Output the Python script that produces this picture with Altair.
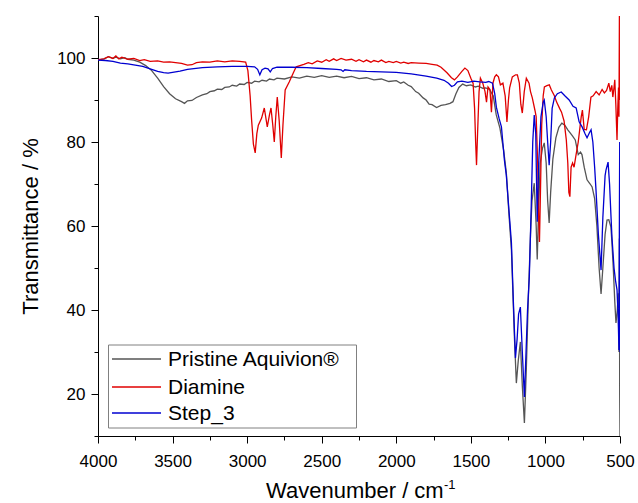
import altair as alt
import pandas as pd

SERIES = ["Pristine Aquivion®", "Diamine", "Step_3"]
COLORS = ["#555555", "#e00000", "#0000d0"]

gray_wn = [4000, 3960, 3930, 3900, 3880, 3850, 3820, 3800, 3760, 3720, 3680, 3640, 3600, 3560, 3520, 3480,
           3440, 3420, 3400, 3370, 3340, 3300, 3270, 3250, 3220, 3200, 3170, 3150, 3120, 3100, 3070, 3050,
           3020, 3000, 2970, 2950, 2920, 2900, 2870, 2850, 2820, 2800, 2750, 2700, 2650, 2600, 2550, 2500,
           2450, 2400, 2350, 2300, 2250, 2200, 2150, 2100, 2050, 2000, 1970, 1950, 1920, 1900, 1870, 1850,
           1820, 1800, 1780, 1760, 1730, 1700, 1670, 1640, 1620, 1600, 1580, 1555, 1530, 1500, 1470, 1450,
           1420, 1400, 1375, 1350, 1330, 1320, 1305, 1280, 1262, 1245, 1228, 1208, 1195, 1182, 1168, 1155,
           1141, 1128, 1115, 1100, 1090, 1075, 1062, 1055, 1045, 1035, 1020, 1008, 995, 985, 975, 965,
           950, 930, 910, 890, 870, 850, 820, 800, 780, 765, 755, 740, 721, 700, 687, 670,
           655, 640, 627, 615, 600, 587, 575, 561, 554, 545, 535, 527, 518, 512, 507, 504, 502, 500]
gray_t = [99.5, 99.8, 100.3, 99.9, 100.2, 99.8, 100.1, 99.7, 99.5, 99.0, 98.2, 97.0, 95.2, 93.2, 91.5, 90.3,
          89.6, 89.2, 89.8, 89.9, 90.6, 91.2, 91.5, 92.0, 92.2, 92.6, 92.5, 93.0, 93.1, 93.5, 93.3, 93.8,
          93.7, 94.2, 94.0, 94.5, 94.3, 94.7, 94.5, 95.0, 94.8, 95.2, 95.0, 95.5, 95.2, 95.7, 95.4, 95.8,
          95.4, 95.7, 95.3, 95.6, 95.1, 95.3, 94.8, 95.0, 94.4, 94.6, 94.0, 94.3, 93.5, 93.2, 92.0, 91.6,
          90.5, 90.0, 89.0, 88.9, 88.2, 88.7, 88.9, 89.2, 89.6, 91.5, 93.0, 93.8, 93.4, 93.6, 93.1, 93.3,
          92.8, 92.9, 92.5, 91.0, 86.5, 85.2, 83.3, 78.0, 72.6, 63.0, 54.3, 33.6, 22.6, 28.0, 32.4, 22.0,
          13.1, 26.0, 42.4, 58.0, 66.0, 70.2, 60.0, 52.0, 65.0, 75.0, 78.5, 79.8, 75.0, 66.0, 60.7, 68.0,
          76.0, 81.0, 83.5, 84.5, 84.0, 82.9, 81.5, 80.5, 77.0, 77.6, 77.0, 74.0, 71.0, 70.0, 69.3, 66.5,
          60.0, 50.0, 43.8, 50.0, 58.0, 61.4, 61.5, 59.8, 56.0, 50.0, 42.0, 36.9, 40.0, 44.0, 30.0, 57.0, 20.0, 10.0]

red_wn = [4000, 3960, 3930, 3900, 3880, 3860, 3840, 3800, 3760, 3720, 3690, 3650, 3600, 3560, 3520, 3480,
          3440, 3400, 3370, 3340, 3300, 3250, 3200, 3150, 3100, 3050, 3010, 2995, 2980, 2970, 2958, 2946,
          2935, 2925, 2903, 2885, 2865, 2850, 2840, 2828, 2818, 2808, 2798, 2785, 2771, 2760, 2745, 2718,
          2690, 2671, 2620, 2590, 2564, 2530, 2500, 2470, 2450, 2420, 2400, 2370, 2337, 2300, 2270, 2250,
          2220, 2200, 2170, 2150, 2120, 2100, 2070, 2050, 2020, 2000, 1970, 1950, 1920, 1900, 1850, 1800,
          1760, 1726, 1700, 1660, 1630, 1610, 1590, 1560, 1540, 1520, 1500, 1485, 1475, 1468, 1462, 1455,
          1445, 1436, 1420, 1405, 1395, 1385, 1372, 1362, 1352, 1340, 1329, 1315, 1302, 1285, 1270, 1258,
          1248, 1240, 1222, 1200, 1188, 1175, 1165, 1155, 1142, 1128, 1110, 1100, 1088, 1070, 1062, 1052,
          1045, 1040, 1035, 1025, 1015, 1007, 990, 974, 960, 940, 925, 905, 892, 875, 860, 850,
          843, 836, 828, 818, 808, 795, 780, 770, 760, 752, 740, 725, 710, 695, 680, 660,
          640, 620, 605, 590, 575, 565, 555, 548, 540, 535, 528, 520, 515, 510, 507, 504, 502, 500]
red_t = [99.6, 99.8, 100.3, 99.9, 100.5, 99.8, 100.2, 99.7, 99.9, 99.4, 99.6, 99.2, 99.3, 99.0, 99.1, 98.9,
         98.7, 98.3, 98.4, 98.9, 99.1, 99.0, 99.3, 99.1, 99.3, 99.2, 99.0, 97.0, 91.0, 85.2, 79.5, 77.4,
         82.0, 84.0, 85.7, 88.1, 83.6, 86.5, 88.1, 84.0, 80.0, 86.0, 90.7, 85.0, 76.2, 84.0, 92.4, 94.3,
         96.5, 97.9, 98.5, 98.9, 98.6, 99.3, 99.0, 99.6, 99.2, 99.8, 99.4, 99.9, 99.5, 99.7, 99.2, 99.6,
         99.1, 99.5, 99.0, 99.4, 99.1, 99.5, 98.9, 99.2, 98.9, 99.2, 98.8, 99.0, 98.7, 98.9, 98.8, 98.7,
         98.5, 98.3, 97.8, 96.5, 95.3, 94.8, 95.5, 96.8, 97.6, 97.0, 95.2, 94.0, 88.0, 80.0, 74.5, 82.0,
         92.0, 95.2, 94.0, 92.0, 89.5, 93.1, 92.5, 87.1, 94.0, 95.5, 96.0, 95.5, 93.6, 94.0, 91.0, 84.8,
         90.0, 92.9, 95.5, 96.0, 96.0, 94.0, 89.0, 86.9, 92.0, 95.2, 94.0, 92.0, 90.5, 87.5, 86.0, 75.0,
         62.0, 56.2, 65.0, 84.0, 91.0, 93.1, 93.4, 93.6, 92.4, 91.0, 89.5, 88.0, 87.1, 85.0, 80.5, 75.0,
         68.0, 67.0, 74.0, 75.0, 74.0, 76.9, 80.0, 83.0, 86.0, 87.6, 83.0, 82.9, 86.0, 90.7, 91.0, 92.0,
         91.2, 92.5, 91.7, 92.3, 94.0, 92.0, 93.5, 90.7, 93.0, 94.8, 89.0, 80.5, 88.0, 93.0, 86.0, 110.0, 90.0, 110.0]

blue_wn = [4000, 3950, 3900, 3850, 3800, 3750, 3700, 3650, 3600, 3560, 3530, 3500, 3450, 3400, 3300, 3200,
           3100, 3000, 2950, 2930, 2915, 2900, 2880, 2860, 2845, 2830, 2800, 2700, 2600, 2500, 2400, 2370,
           2357, 2345, 2300, 2200, 2100, 2000, 1900, 1800, 1729, 1680, 1650, 1629, 1610, 1590, 1560, 1520,
           1480, 1440, 1400, 1380, 1355, 1340, 1329, 1310, 1295, 1275, 1262, 1245, 1228, 1215, 1201, 1190,
           1180, 1168, 1155, 1141, 1130, 1120, 1108, 1095, 1085, 1075, 1065, 1055, 1045, 1030, 1015, 1008,
           995, 985, 975, 965, 955, 940, 920, 894, 870, 841, 815, 794, 774, 754, 735, 721,
           705, 694, 682, 670, 661, 645, 627, 615, 600, 594, 580, 570, 560, 554, 540, 530,
           520, 512, 507, 504, 502, 500]
blue_t = [99.5, 99.4, 99.2, 98.8, 98.6, 98.3, 98.0, 97.4, 96.8, 96.5, 96.4, 96.6, 96.9, 97.3, 97.7, 97.9,
          98.0, 98.0, 97.9, 97.3, 96.0, 97.2, 97.6, 97.4, 96.7, 97.5, 97.8, 97.8, 97.7, 97.5, 97.3, 97.2,
          96.8, 97.2, 97.0, 96.8, 96.7, 96.6, 96.2, 95.7, 95.2, 94.7, 94.0, 93.2, 93.5, 94.3, 94.5, 94.2,
          94.5, 94.3, 94.2, 94.4, 94.0, 91.5, 88.3, 85.5, 83.6, 75.7, 72.0, 64.0, 56.0, 42.0, 28.6, 33.0,
          39.0, 40.7, 30.0, 19.3, 30.0, 40.0, 47.9, 65.0, 80.0, 86.4, 82.0, 61.0, 75.0, 86.0, 89.5, 90.0,
          86.0, 80.0, 74.5, 80.0, 88.0, 90.5, 91.5, 91.9, 91.0, 90.0, 88.5, 88.1, 84.8, 83.6, 82.0, 81.0,
          82.2, 82.9, 80.0, 74.0, 68.6, 58.0, 49.5, 62.0, 72.0, 73.3, 75.2, 70.0, 62.0, 57.4, 50.0, 47.0,
          44.8, 38.0, 30.5, 62.0, 80.0, 30.0]

rows = []
for name, wns, ts in [(SERIES[0], gray_wn, gray_t), (SERIES[1], red_wn, red_t), (SERIES[2], blue_wn, blue_t)]:
    for w, t in zip(wns, ts):
        rows.append({"wn": w, "t": t, "series": name})
df = pd.DataFrame(rows)

x_ticks = list(range(4000, 499, -250))
y_ticks = list(range(10, 111, 10))
FONT = "Liberation Sans"

x_enc = alt.X("wn:Q", scale=alt.Scale(domain=[4000, 500], nice=False, zero=False),
              axis=alt.Axis(values=x_ticks, format="d", title=None, labelFlush=False, labelOverlap=False,
                            labelExpr="datum.value % 500 === 0 ? datum.label : ''",
                            tickSize={"condition": {"test": "datum.value % 500 === 0", "value": 7}, "value": 4},
                            labelFontSize=17, labelPadding=10, labelFont=FONT,
                            grid=False, domainColor="black", tickColor="black", labelColor="black"))
y_enc = alt.Y("t:Q", scale=alt.Scale(domain=[10, 110], nice=False, zero=False),
              axis=alt.Axis(values=y_ticks, format="d", title="Transmittance / %", labelFlush=False,
                            labelExpr="datum.value % 20 === 0 && datum.value < 110 ? datum.label : ''",
                            tickSize={"condition": {"test": "datum.value % 20 === 0", "value": 7}, "value": 4},
                            labelFontSize=17, labelPadding=6, labelFont=FONT,
                            titleFont=FONT, titleFontSize=22, titleFontWeight="normal", titleColor="black",
                            titlePadding=14,
                            grid=False, domainColor="black", tickColor="black", labelColor="black"))
color_enc = alt.Color("series:N", scale=alt.Scale(domain=SERIES, range=COLORS), legend=None)

layers = []
for s in SERIES:
    layers.append(
        alt.Chart(df).transform_filter(alt.datum.series == s)
        .mark_line(strokeWidth=1.3, clip=True)
        .encode(x=x_enc, y=y_enc, color=color_enc, order=alt.Order("wn:Q"))
    )

# legend box (drawn in pixel space of the plot area)
tdf = pd.DataFrame({"a": [0]})
legend_box = alt.Chart(tdf).mark_rect(fill="white", stroke="#808080", strokeWidth=1).encode(
    x=alt.value(10.5), x2=alt.value(258.5), y=alt.value(329), y2=alt.value(412))
layers.append(legend_box)
row_y = [343, 371, 397]
for name, col, yy in zip(SERIES, COLORS, row_y):
    layers.append(alt.Chart(tdf).mark_rule(color=col, strokeWidth=1.5).encode(
        x=alt.value(14), x2=alt.value(63), y=alt.value(yy)))
    layers.append(alt.Chart(tdf).mark_text(text=name, font=FONT, fontSize=21, align="left",
                                           baseline="middle", color="black").encode(
        x=alt.value(70), y=alt.value(yy + 1)))

title_main = alt.Chart(tdf).mark_text(text="Wavenumber / cm", font=FONT, fontSize=22, align="left",
                                      baseline="alphabetic", color="black").encode(
    x=alt.value(168), y=alt.value(482))
title_sup = alt.Chart(tdf).mark_text(text="-1", font=FONT, fontSize=13, align="left",
                                     baseline="alphabetic", color="black").encode(
    x=alt.value(346), y=alt.value(473))
layers += [title_main, title_sup]

chart = alt.layer(*layers).properties(
    width=522, height=420,
    padding={"left": 98, "top": 16, "right": 18, "bottom": 67},
    autosize=alt.AutoSizeParams(type="none"),
).configure_view(stroke=None)

chart.save("out.html", embed_options={"renderer": "svg", "actions": False})
